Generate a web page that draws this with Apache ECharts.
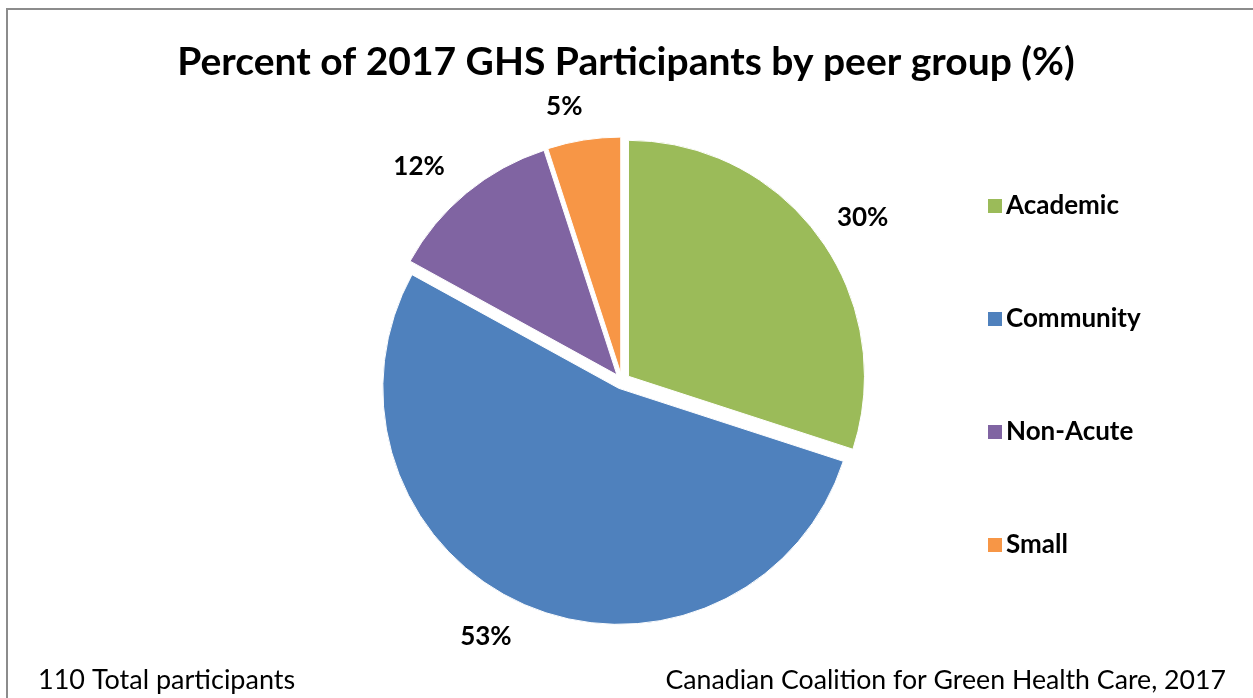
<!DOCTYPE html>
<html>
<head>
<meta charset="utf-8">
<title>Percent of 2017 GHS Participants by peer group</title>
<script src="https://cdn.jsdelivr.net/npm/echarts@6/dist/echarts.min.js"></script>
<style>
  html, body { margin: 0; padding: 0; background: #ffffff; }
  #chart { width: 1253px; height: 698px; }
</style>
</head>
<body>
<div id="chart"></div>
<script>
// Peer groups and their share of participants (%)
const categories = ['Academic', 'Community', 'Non-Acute', 'Small'];
const percents = [30, 53, 12, 5];
const colors = ['#9BBB59', '#4F81BD', '#8064A2', '#F79646'];

const titleText = 'Percent of 2017 GHS Participants by peer group (%)';
const noteLeft = '110 Total participants';
const noteRight = 'Canadian Coalition for Green Health Care, 2017';

const FONT = 'Lato, "Open Sans", sans-serif';

// small horizontal nudges for the outside value labels
const labelNudge = { 0: -10, 3: 4 };

const chart = echarts.init(document.getElementById('chart'), null, { renderer: 'canvas' });

chart.setOption({
  backgroundColor: '#ffffff',
  animation: false,
  title: [
    {
      text: titleText,
      left: 621, top: 38, textAlign: 'center',
      textStyle: { fontFamily: FONT, fontWeight: 'bold', fontSize: 39, color: '#000' }
    },
    {
      text: noteLeft,
      left: 33, top: 662,
      textStyle: { fontFamily: FONT, fontWeight: 'normal', fontSize: 27, color: '#000' }
    },
    {
      text: noteRight,
      right: 22, top: 662,
      textStyle: { fontFamily: FONT, fontWeight: 'normal', fontSize: 26.7, color: '#000' }
    }
  ],
  legend: {
    orient: 'vertical',
    left: 981, top: 188,
    itemWidth: 16, itemHeight: 16,
    itemGap: 87,
    icon: 'rect',
    selectedMode: false,
    data: categories,
    textStyle: { fontFamily: FONT, fontWeight: 'bold', fontSize: 26, color: '#000', padding: [0, 0, 0, -2] }
  },
  graphic: [
    {
      type: 'rect',
      shape: { x: 7, y: 9, width: 1260, height: 720 },
      style: { fill: 'none', stroke: '#8c8c8c', lineWidth: 2 },
      silent: true, z: -1
    }
  ],
  series: [
    {
      type: 'pie',
      center: [622, 381],
      radius: 236,
      startAngle: 90,
      clockwise: true,
      avoidLabelOverlap: false,
      selectedMode: 'multiple',
      selectedOffset: 8,
      itemStyle: { borderColor: '#ffffff', borderWidth: 1 },
      select: { itemStyle: { borderColor: '#ffffff', borderWidth: 1 } },
      label: {
        show: true,
        position: 'outside',
        distanceToLabelLine: 0,
        formatter: '{c}%',
        fontFamily: FONT,
        fontWeight: 'bold',
        fontSize: 26,
        color: '#000'
      },
      labelLine: { show: false, length: 34, length2: 0 },
      labelLayout: function (params) {
        const dx = labelNudge[params.dataIndex];
        return dx ? { dx: dx } : {};
      },
      emphasis: { disabled: true },
      data: categories.map((name, i) => ({
        name: name,
        value: percents[i],
        selected: true,
        itemStyle: { color: colors[i] }
      }))
    }
  ]
});
</script>
</body>
</html>
